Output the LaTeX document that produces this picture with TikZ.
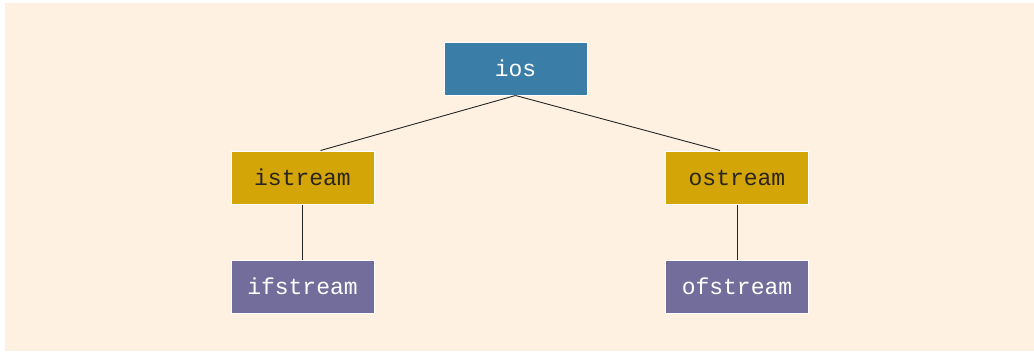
\documentclass[tikz,border=0pt]{standalone}
\usepackage{fontspec}
\setmonofont{Liberation Mono}
\definecolor{bgc}{HTML}{FEF1E2}
\definecolor{iosc}{HTML}{3A7EA8}
\definecolor{yelc}{HTML}{D4A507}
\definecolor{purc}{HTML}{736D9C}
\definecolor{txtd}{HTML}{2A2520}
\begin{document}
\begin{tikzpicture}[x=1pt,y=-1pt,
  cls/.style={draw=white, line width=1pt, minimum width=143pt, minimum height=53pt, inner sep=0pt,
    font=\ttfamily\fontsize{23}{23}\selectfont},
  topc/.style={cls, fill=iosc, text=white},
  midc/.style={cls, fill=yelc, text=txtd},
  lowc/.style={cls, fill=purc, text=white},
  conn/.style={draw=black!85, line width=0.9pt}]
\useasboundingbox (0,0) rectangle (1034,351);
\fill[bgc] (5,3) rectangle (1034,351);
\node[topc] (ios) at (515.5,68.5) {ios};
\node[midc] (is) at (302.5,177.5) {istream};
\node[midc] (os) at (737,177.5) {ostream};
\node[lowc] (ifs) at (302.5,286.5) {ifstream};
\node[lowc] (ofs) at (737,286.5) {ofstream};
\draw[conn] (ios.south) -- ([xshift=18pt]is.north);
\draw[conn] (ios.south) -- ([xshift=-17pt]os.north);
\draw[conn] (is.south) -- (ifs.north);
\draw[conn] (os.south) -- (ofs.north);
\end{tikzpicture}
\end{document}
